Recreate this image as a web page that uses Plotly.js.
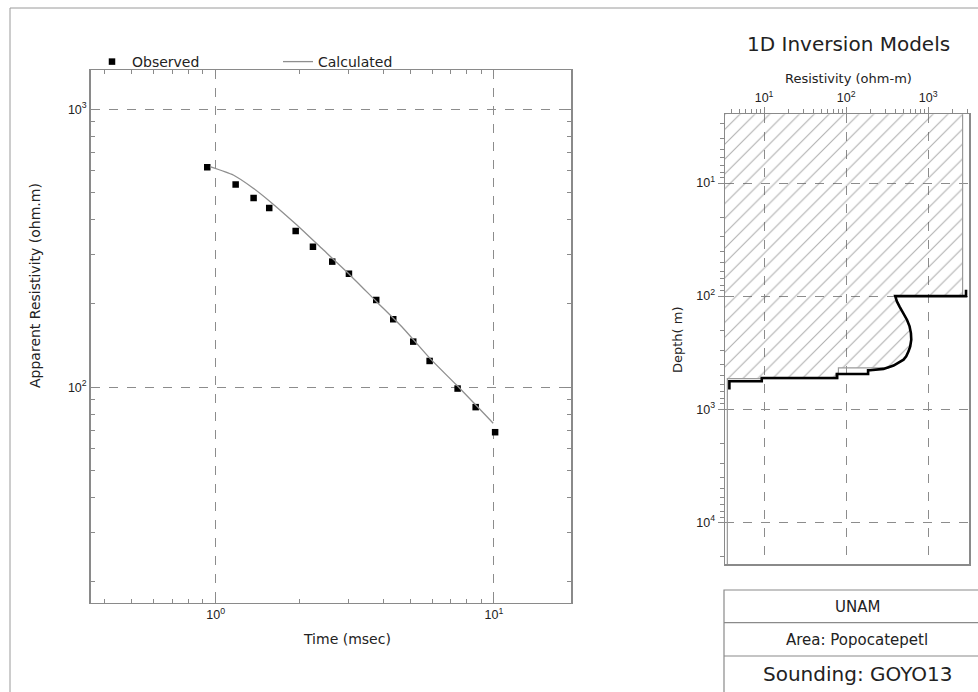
<!DOCTYPE html>
<html>
<head>
<meta charset="utf-8">
<script src="https://cdn.plot.ly/plotly-3.0.1.min.js"></script>
<style>html,body{margin:0;padding:0;background:#fff;}#chart{width:978px;height:692px;}</style>
</head>
<body>
<div id="chart"></div>
<script>
// ---------- Data: TEM sounding curve ----------
const obsTime = [0.933, 1.18, 1.369, 1.558, 1.939, 2.237, 2.624, 3.013, 3.776, 4.347, 5.129, 5.874, 7.405, 8.598, 10.1];
const obsRho  = [618, 536, 479, 441, 365, 320, 283, 256, 206, 175.6, 145.9, 124.3, 98.9, 84.8, 68.9];
const calcTime = [0.954, 1.157, 1.365, 1.567, 1.954, 2.436, 3.038, 3.789, 4.72, 5.89, 7.34, 9.94];
const calcRho  = [622, 580, 520, 466, 384, 312, 253.5, 203, 163, 127, 101.8, 74.2];

// ---------- Data: 1D inversion models ----------
const modelRho   = [2884, 2884, 396, 415, 447, 500, 550, 592, 615, 621, 603, 575, 539, 500, 456, 415, 378, 328, 285, 196, 185, 185, 77, 77, 9.37, 9.37, 3.78, 3.78];
const modelDepth = [88, 100, 100, 111.6, 123.7, 141.4, 161.9, 185.4, 212.4, 243.4, 278.8, 308.5, 341.6, 365, 382.4, 396, 412, 426.6, 440.6, 453.6, 453.6, 488.7, 488.7, 531, 531, 567.6, 567.6, 671];
const smoothRho   = [2620, 2620, 396, 415, 447, 500, 550, 592, 615, 621, 603, 575, 539, 500, 456, 415, 378, 328, 80.5, 80.5, 3.57, 3.57];
const smoothDepth = [2, 100, 100, 111.6, 123.7, 141.4, 161.9, 185.4, 212.4, 243.4, 278.8, 308.5, 341.6, 365, 382.4, 396, 412, 431.5, 431.5, 537, 537, 30000];

const xTickVals = [1, 10];
const xTickText = ['10<sup>0</sup>', '10<sup>1</sup>'];
const yTickVals = [100, 1000];
const yTickText = ['10<sup>2</sup>', '10<sup>3</sup>'];
const rTickVals = [10, 100, 1000];
const rTickText = ['10<sup>1</sup>', '10<sup>2</sup>', '10<sup>3</sup>'];
const dTickVals = [10, 100, 1000, 10000];
const dTickText = ['10<sup>1</sup>', '10<sup>2</sup>', '10<sup>3</sup>', '10<sup>4</sup>'];

const headerLines = ['UNAM', 'Area: Popocatepetl', 'Sounding: GOYO13'];

// ---------- helpers ----------
function minorVals(lo, hi) {
  const out = [];
  for (let e = lo; e <= hi; e++) {
    for (let d = 2; d <= 9; d++) out.push(d * Math.pow(10, e));
  }
  return out;
}
const W = 978, H = 692;
const px = v => v / W;
const py = v => 1 - v / H;

// hatch polygon built from the smooth model boundary
const hatchX = [2.5].concat(smoothRho.slice(0, -1)).concat([2.5]);
const hatchY = [2].concat(smoothDepth.slice(0, -1)).concat([smoothDepth[smoothDepth.length - 2]]);

const axisGray = '#8a8a8a';
const gridGray = '#8c8c8c';
const tickFont = {family: 'Liberation Sans, Arial, sans-serif', size: 12.5, color: '#222'};

const traces = [
  {
    x: obsTime, y: obsRho, type: 'scatter', mode: 'markers', name: 'Observed',
    marker: {symbol: 'square', size: 6.5, color: '#000'},
    xaxis: 'x', yaxis: 'y'
  },
  {
    x: calcTime, y: calcRho, type: 'scatter', mode: 'lines', name: 'Calculated',
    line: {color: '#8f8f8f', width: 1.3, shape: 'spline', smoothing: 0.6},
    xaxis: 'x', yaxis: 'y'
  },
  {
    x: hatchX, y: hatchY, type: 'scatter', mode: 'lines', fill: 'toself',
    fillcolor: 'rgba(0,0,0,0)', line: {width: 0, color: '#777'},
    fillpattern: {shape: '/', size: 10.5, solidity: 0.1, fgcolor: '#5e5e5e', bgcolor: 'rgba(255,255,255,0)', fillmode: 'overlay'},
    showlegend: false, hoverinfo: 'skip', xaxis: 'x2', yaxis: 'y2'
  },
  {
    x: smoothRho, y: smoothDepth, type: 'scatter', mode: 'lines',
    line: {color: '#9a9a9a', width: 1.2},
    showlegend: false, xaxis: 'x2', yaxis: 'y2'
  },
  {
    x: modelRho, y: modelDepth, type: 'scatter', mode: 'lines',
    line: {color: '#000', width: 2.6},
    showlegend: false, xaxis: 'x2', yaxis: 'y2'
  }
];

const baseAxis = {
  type: 'log', showgrid: true, gridcolor: gridGray, griddash: 'dash', gridwidth: 1,
  zeroline: false, showline: true, linecolor: axisGray, linewidth: 1.5,
  tickmode: 'array', tickcolor: axisGray, tickwidth: 1, tickfont: tickFont
};

const layout = {
  width: W, height: H,
  margin: {l: 0, r: 0, t: 0, b: 0},
  paper_bgcolor: '#fff', plot_bgcolor: 'rgba(0,0,0,0)',
  font: {family: 'DejaVu Sans, sans-serif', color: '#222'},
  showlegend: true,
  legend: {
    orientation: 'h', x: px(92), y: py(46), xanchor: 'left', yanchor: 'top',
    entrywidth: 141, entrywidthmode: 'pixels', itemwidth: 30,
    font: {size: 14, color: '#222'}, bgcolor: 'rgba(0,0,0,0)', traceorder: 'normal'
  },
  xaxis: Object.assign({}, baseAxis, {
    domain: [px(90.7), px(571)], range: [-0.449, 1.277], anchor: 'y',
    tickvals: xTickVals, ticktext: xTickText, ticks: 'inside', ticklen: 6, mirror: 'ticks',
    minor: {tickmode: 'array', tickvals: minorVals(-1, 1), ticks: 'inside', ticklen: 4, tickcolor: axisGray, showgrid: false}
  }),
  yaxis: Object.assign({}, baseAxis, {
    domain: [py(602.7), py(70)], range: [1.225, 3.141], anchor: 'x',
    tickvals: yTickVals, ticktext: yTickText, ticks: 'inside', ticklen: 6, mirror: 'ticks',
    minor: {tickmode: 'array', tickvals: minorVals(1, 2), ticks: 'inside', ticklen: 4, tickcolor: axisGray, showgrid: false}
  }),
  xaxis2: Object.assign({}, baseAxis, {
    domain: [px(725), px(969.3)], range: [0.524, 3.5], anchor: 'y2', side: 'top',
    tickvals: rTickVals, ticktext: rTickText, ticks: 'outside', ticklen: 6, mirror: true,
    minor: {tickmode: 'array', tickvals: minorVals(0, 3), ticks: 'outside', ticklen: 3.5, tickcolor: axisGray, showgrid: false}
  }),
  yaxis2: Object.assign({}, baseAxis, {
    domain: [py(564), py(114.3)], range: [4.37, 0.392], anchor: 'x2',
    tickvals: dTickVals, ticktext: dTickText, ticks: 'outside', ticklen: 6, mirror: true,
    minor: {tickmode: 'array', tickvals: minorVals(0, 4), ticks: 'outside', ticklen: 3.5, tickcolor: axisGray, showgrid: false}
  }),
  shapes: [
    {type: 'rect', xref: 'paper', yref: 'paper', x0: px(10), x1: px(1000), y0: py(8), y1: py(720),
     line: {color: '#9a9a9a', width: 1}, layer: 'below'},
    {type: 'rect', xref: 'paper', yref: 'paper', x0: px(724), x1: px(992), y0: py(590), y1: py(720),
     line: {color: '#8a8a8a', width: 1.2}},
    {type: 'line', xref: 'paper', yref: 'paper', x0: px(724), x1: px(992), y0: py(622.7), y1: py(622.7),
     line: {color: '#8a8a8a', width: 1.2}},
    {type: 'line', xref: 'paper', yref: 'paper', x0: px(724), x1: px(992), y0: py(656), y1: py(656),
     line: {color: '#8a8a8a', width: 1.2}}
  ],
  annotations: [
    {text: 'Apparent Resistivity (ohm.m)', xref: 'paper', yref: 'paper', x: px(35), y: py(286),
     textangle: -90, showarrow: false, font: {size: 14}, xanchor: 'center', yanchor: 'middle'},
    {text: 'Time (msec)', xref: 'paper', yref: 'paper', x: px(347), y: py(639),
     showarrow: false, font: {size: 14}, xanchor: 'center', yanchor: 'middle'},
    {text: '1D Inversion Models', xref: 'paper', yref: 'paper', x: px(848), y: py(44),
     showarrow: false, font: {size: 20}, xanchor: 'center', yanchor: 'middle'},
    {text: 'Resistivity (ohm-m)', xref: 'paper', yref: 'paper', x: px(848), y: py(78),
     showarrow: false, font: {size: 13}, xanchor: 'center', yanchor: 'middle'},
    {text: 'Depth( m)', xref: 'paper', yref: 'paper', x: px(677), y: py(340),
     textangle: -90, showarrow: false, font: {size: 13}, xanchor: 'center', yanchor: 'middle'},
    {text: headerLines[0], xref: 'paper', yref: 'paper', x: px(857), y: py(607),
     showarrow: false, font: {size: 15}, xanchor: 'center', yanchor: 'middle'},
    {text: headerLines[1], xref: 'paper', yref: 'paper', x: px(857), y: py(640),
     showarrow: false, font: {size: 15}, xanchor: 'center', yanchor: 'middle'},
    {text: headerLines[2], xref: 'paper', yref: 'paper', x: px(857), y: py(674),
     showarrow: false, font: {size: 20}, xanchor: 'center', yanchor: 'middle'}
  ]
};

Plotly.newPlot('chart', traces, layout, {staticPlot: true, displayModeBar: false});
</script>
</body>
</html>
